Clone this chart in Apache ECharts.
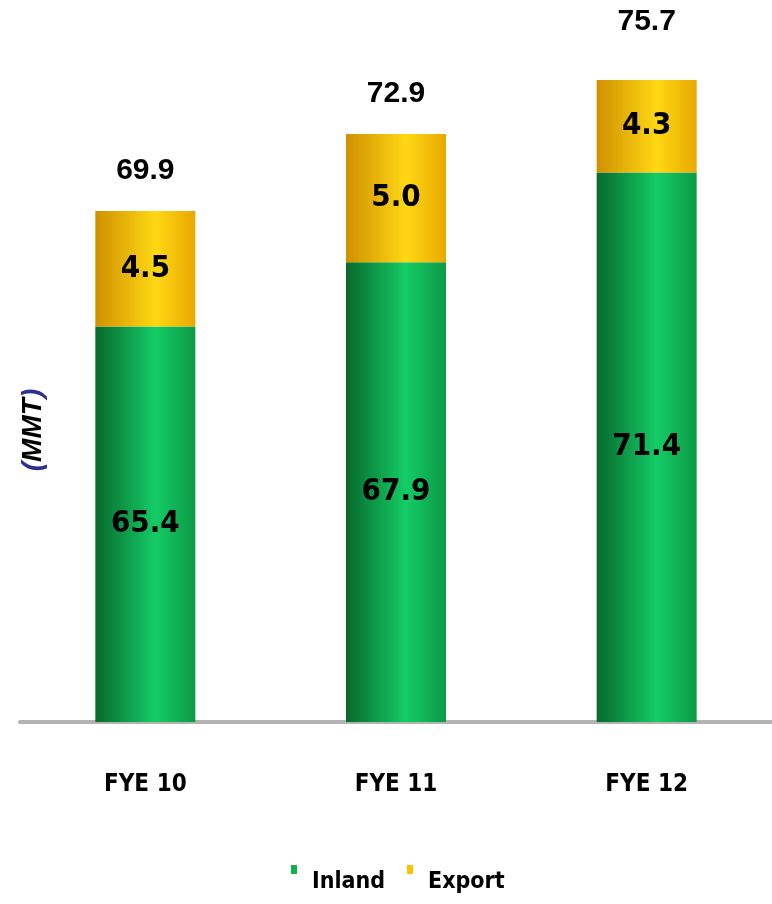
<!DOCTYPE html>
<html>
<head>
<meta charset="utf-8">
<script src="https://cdn.jsdelivr.net/npm/echarts@6/dist/echarts.min.js"></script>
<style>
  html, body { margin: 0; padding: 0; background: #fff; }
  #container { width: 772px; height: 904px; }
</style>
</head>
<body>
<div id="container"></div>
<script>
var categories = ['FYE 10', 'FYE 11', 'FYE 12'];
var inland = [65.4, 67.9, 71.4];
var exportVals = [4.5, 5.0, 4.3];
var totals = [69.9, 72.9, 75.7];

var narrow = '"Liberation Sans Narrow", "DejaVu Sans Condensed", sans-serif';
var arial = '"Liberation Sans", Arial, sans-serif';

function cylinder(edge, mid, edge2) {
    return new echarts.graphic.LinearGradient(0, 0, 1, 0, [
        { offset: 0, color: edge },
        { offset: 0.6, color: mid },
        { offset: 1, color: edge2 }
    ]);
}

window.onload = function () {
    var dom = document.getElementById("container");
    var myChart = echarts.init(dom);
    var option = {
        animation: false,
        grid: { left: 20, right: 0, top: 80, bottom: 182 },
        legend: {
            top: 865,
            left: 291,
            padding: 0,
            itemWidth: 6,
            itemHeight: 34,
            itemGap: 22,
            icon: 'path://M0,0L6,0L6,9L0,9Z M0,34L6,34Z',
            textStyle: { fontFamily: narrow, fontWeight: 'bold', fontSize: 23, color: '#000', padding: [0, 0, 0, 10] },
            data: [
                { name: 'Inland', itemStyle: { color: '#12b04e' } },
                { name: 'Export', itemStyle: { color: '#ffc000' } }
            ]
        },
        xAxis: {
            type: 'category',
            data: categories,
            axisLine: { lineStyle: { color: '#b3b3b3', width: 4 } },
            axisTick: { show: false },
            axisLabel: { margin: 51, fontFamily: narrow, fontWeight: 'bold', fontSize: 24, color: '#000' }
        },
        yAxis: {
            type: 'value',
            min: 50,
            max: 75,
            axisLine: { show: false },
            axisTick: { show: false },
            axisLabel: { show: false },
            splitLine: { show: false },
            name: '{p|(}MMT{p|)}',
            nameLocation: 'middle',
            nameRotate: 90,
            nameGap: -27,
            nameTextStyle: {
                fontFamily: arial,
                fontWeight: 'bold',
                fontStyle: 'italic',
                fontSize: 28,
                color: '#000',
                padding: [0, 58, 0, 0],
                rich: {
                    p: { color: '#2e3192', fontSize: 28, fontWeight: 'bold', fontStyle: 'italic', fontFamily: arial }
                }
            }
        },
        series: [
            {
                name: 'Inland',
                type: 'bar',
                stack: 'total',
                barWidth: 100,
                data: inland,
                itemStyle: { color: cylinder('#07692c', '#14cc66', '#0c9a45') },
                label: {
                    show: true,
                    position: 'inside',
                    fontFamily: narrow,
                    fontWeight: 'bold',
                    fontSize: 31,
                    color: '#000',
                    formatter: function (p) { return p.value.toFixed(1); }
                }
            },
            {
                name: 'Export',
                type: 'bar',
                stack: 'total',
                barWidth: 100,
                data: exportVals,
                itemStyle: { color: cylinder('#d09000', '#ffd814', '#e8a800') },
                label: {
                    show: true,
                    position: 'inside',
                    fontFamily: narrow,
                    fontWeight: 'bold',
                    fontSize: 31,
                    color: '#000',
                    formatter: function (p) { return p.value.toFixed(1); }
                }
            },
            {
                name: 'Total',
                type: 'line',
                data: totals,
                clip: false,
                symbol: 'circle',
                symbolSize: 2,
                showSymbol: true,
                silent: true,
                lineStyle: { width: 0, opacity: 0 },
                itemStyle: { color: 'rgba(255,255,255,0)', opacity: 1 },
                label: {
                    show: true,
                    position: 'top',
                    distance: 24,
                    fontFamily: arial,
                    fontWeight: 'bold',
                    fontSize: 30,
                    color: '#000',
                    formatter: function (p) { return p.value.toFixed(1); }
                }
            }
        ]
    };
    myChart.setOption(option);
};
</script>
</body>
</html>
